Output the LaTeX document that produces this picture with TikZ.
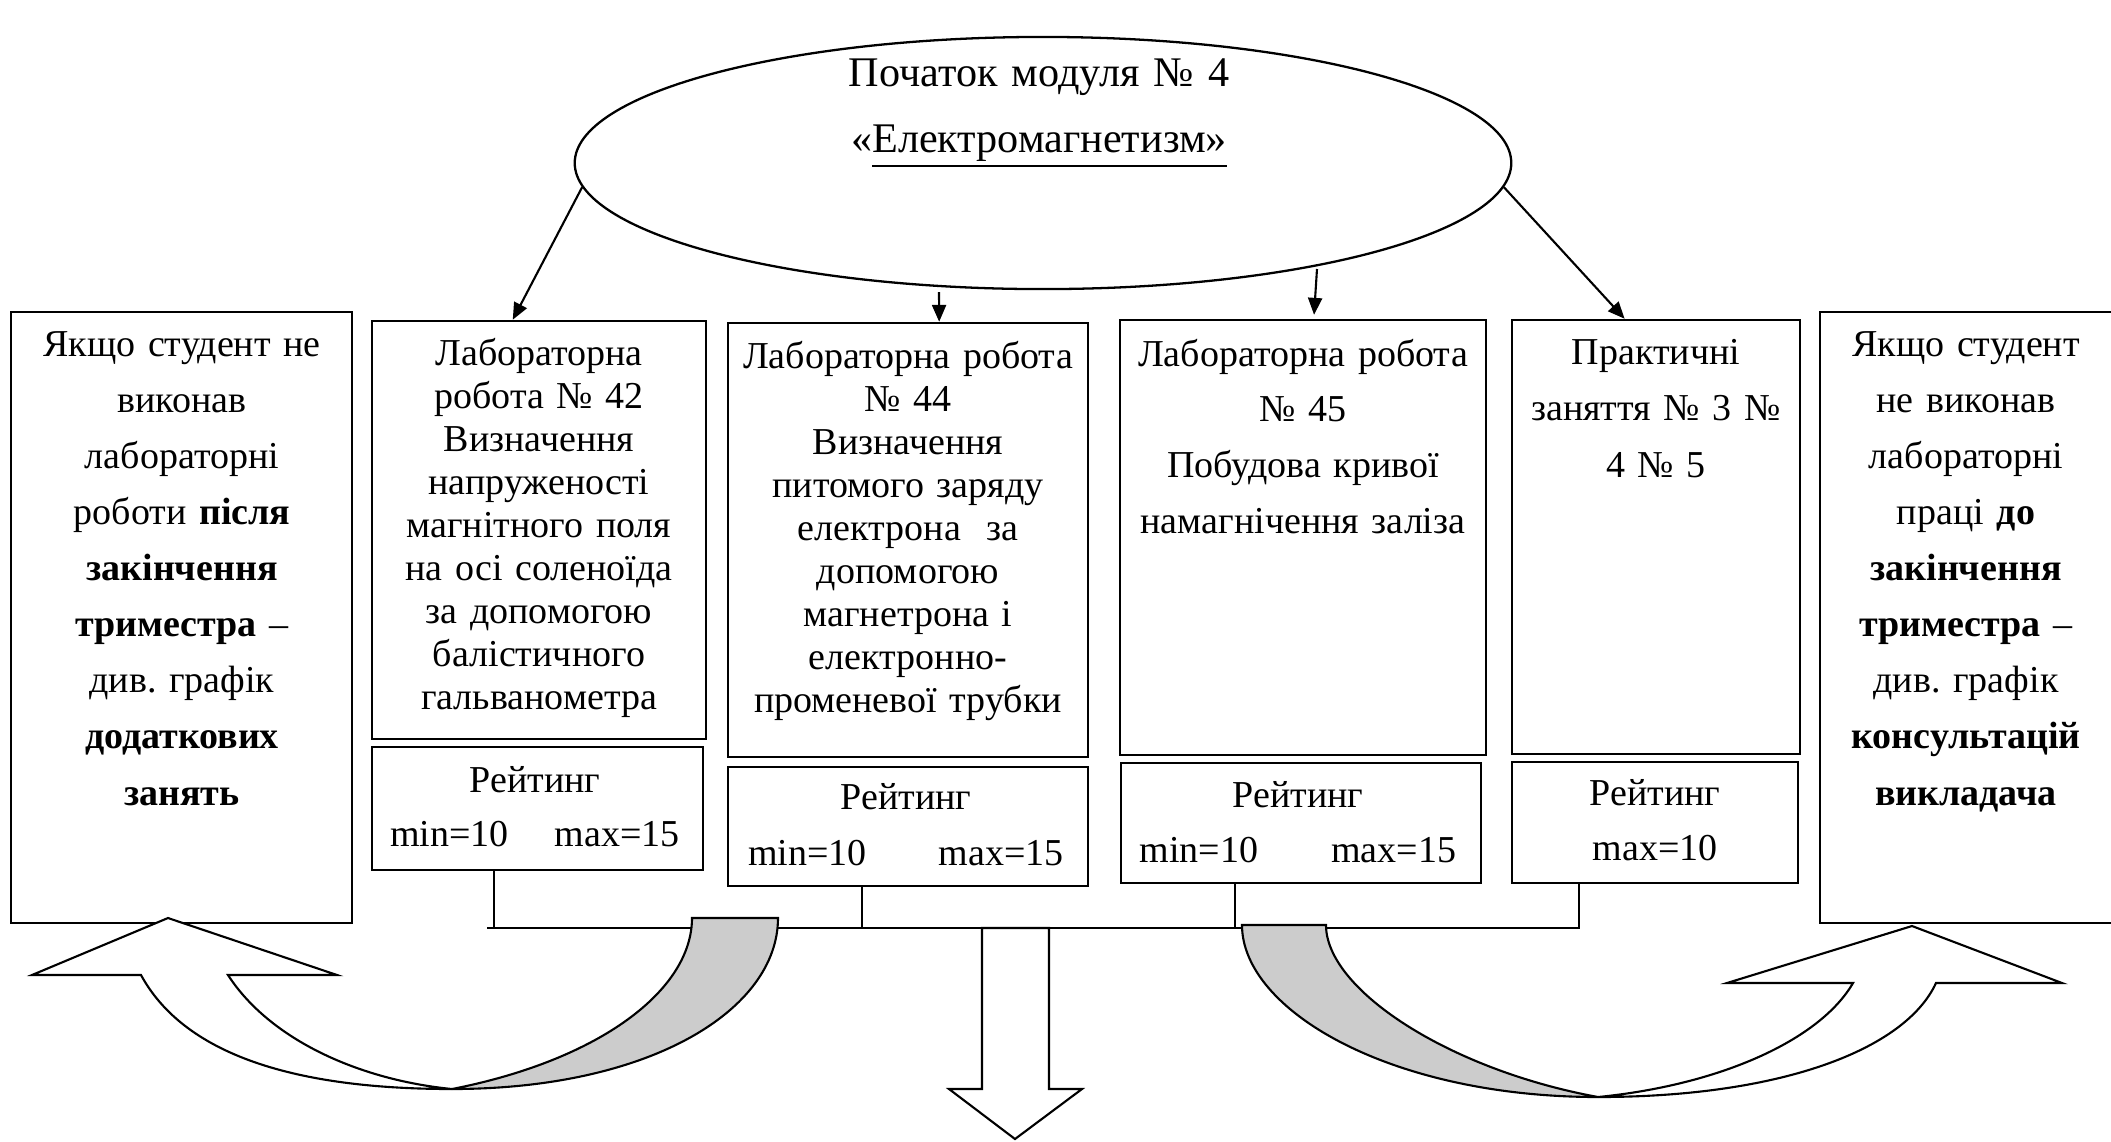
\documentclass[tikz,border=0pt]{standalone}
\usepackage{fontspec}
\setmainfont{Liberation Serif}
\frenchspacing
\usetikzlibrary{fit,calc,arrows.meta,shapes.geometric}
\begin{document}
\begin{tikzpicture}[x=0.01cm,y=-0.01cm,
  frame/.style={draw, line width=0.72pt, inner sep=0pt},
  txt/.style={inner sep=0pt, anchor=base, align=center, text width=4.2cm,
    font={\fontsize{10.81pt}{#1}\selectfont\frenchspacing}},
  etxt/.style={inner sep=0pt, anchor=base, align=center, text width=5.5cm,
    font={\fontsize{12pt}{#1}\selectfont\frenchspacing}},
  conn/.style={line width=0.6pt, -{Triangle[length=4.8pt,width=4pt]}},
  wire/.style={line width=0.6pt},
  band/.style={draw, line width=0.6pt, fill=black!20},
  warrow/.style={draw, line width=0.6pt, fill=white, line join=miter}
]
\useasboundingbox[fill=white] (0,0) rectangle (2111,1141);

% ellipse
\node[ellipse, draw, line width=0.65pt, minimum width=9.36cm, minimum height=2.52cm, inner sep=0pt] (ell) at (1043,163) {};
\node[etxt=18.8pt] (etitle) at (1039,86) {Початок модуля № 4\\«\underline{Електромагнетизм»}};

% boxes
\node[fit={(11,312) (352,923)}, frame] (lbox) {};
\node[fit={(1820,312) (2116,923)}, frame] (rbox) {};
\node[fit={(372,321) (706,739)}, frame] (b42) {};
\node[fit={(372,747) (703,870)}, frame] (r42) {};
\node[fit={(728,323) (1088,757)}, frame] (b44) {};
\node[fit={(728,767) (1088,886)}, frame] (r44) {};
\node[fit={(1120,320) (1486,755)}, frame] (b45) {};
\node[fit={(1121,763) (1481,883)}, frame] (r45) {};
\node[fit={(1512,320) (1800,754)}, frame] (bp) {};
\node[fit={(1512,762) (1798,883)}, frame] (rp) {};

% texts
\node[txt=15.96pt] (ltext) at (182,356) {Якщо студент не\\виконав\\лабораторні\\роботи \textbf{після}\\\textbf{закінчення}\\\textbf{триместра} –\\див. графік\\\textbf{додаткових}\\\textbf{занять}};
\node[txt=15.96pt] (rtext) at (1966,356) {Якщо студент\\не виконав\\лабораторні\\праці \textbf{до}\\\textbf{закінчення}\\\textbf{триместра} –\\див. графік\\\textbf{консультацій}\\\textbf{викладача}};
\node[txt=12.26pt] (t42) at (539,365) {Лабораторна\\робота № 42\\Визначення\\напруженості\\магнітного поля\\на осі соленоїда\\за допомогою\\балістичного\\гальванометра};
\node[txt=12.26pt] (t44) at (908,368) {Лабораторна робота\\№ 44\\Визначення\\питомого заряду\\електрона~ за\\допомогою\\магнетрона і\\електронно-\\променевої трубки};
\node[txt=15.85pt] (t45) at (1303,366) {Лабораторна робота\\№ 45\\Побудова кривої\\намагнічення заліза};
\node[txt=16.08pt] (tp) at (1656,364) {Практичні\\заняття № 3 №\\4 № 5};

\node[txt=15.37pt] (rt42) at (535,792) {Рейтинг\\min=10\hspace{0.46cm}max=15};
\node[txt=16.2pt] (rt44) at (906,809) {Рейтинг\\min=10\hspace{0.72cm}max=15};
\node[txt=15.65pt] (rt45) at (1298,807) {Рейтинг\\min=10\hspace{0.73cm}max=15};
\node[txt=15.9pt] (rtp) at (1655,805) {Рейтинг\\max=10};

% arrows from ellipse
\coordinate (s2) at (939,292);
\coordinate (s3) at (1317,269);
\draw[conn] (ell.183.7) -- ($(b42.north west)!0.422!(b42.north east)$);
\draw[conn] (s2) -- ($(b44.north west)!0.586!(b44.north east)$);
\draw[conn] (s3) -- ($(b45.north west)!0.53!(b45.north east)+(0,-4)$);
\draw[conn] (ell.357.6) -- ($(bp.north west)!0.392!(bp.north east)$);

% bus
\coordinate (busL) at (487,928);
\coordinate (c42) at ($(r42.south west)!0.369!(r42.south east)$);
\coordinate (c44) at ($(r44.south west)!0.372!(r44.south east)$);
\coordinate (c45) at ($(r45.south west)!0.319!(r45.south east)$);
\coordinate (cp) at ($(rp.south west)!0.238!(rp.south east)$);
\draw[wire] (c42) -- (c42 |- busL);
\draw[wire] (c44) -- (c44 |- busL);
\draw[wire] (c45) -- (c45 |- busL);
\draw[wire] (busL) -- (cp |- busL) -- (cp);

% left curved arrow
\draw[band] (692,918) -- (778,918) .. controls (778,1010) and (650,1089) .. (452,1089)
  .. controls (600,1060) and (692,990) .. (692,918) -- cycle;
\draw[warrow] (141,975) .. controls (190,1065) and (320,1089) .. (452,1089)
  .. controls (360,1080) and (270,1040) .. (228,975) -- (337,975) -- (168,918) -- (32,975) -- cycle;

% right curved arrow
\draw[band] (1242,925) -- (1326,925) .. controls (1326,990) and (1450,1070) .. (1598,1097)
  .. controls (1390,1097) and (1242,1010) .. (1242,925) -- cycle;
\draw[warrow] (1936,983) .. controls (1905,1050) and (1780,1097) .. (1598,1097)
  .. controls (1720,1085) and (1820,1040) .. (1853,983) -- (1727,983) -- (1912,926) -- (2062,983) -- cycle;

% down arrow
\draw[warrow] (982,928) -- (982,1089) -- (949,1089) -- (1015,1139) -- (1082,1089) -- (1049,1089) -- (1049,928) -- cycle;
\end{tikzpicture}
\end{document}
